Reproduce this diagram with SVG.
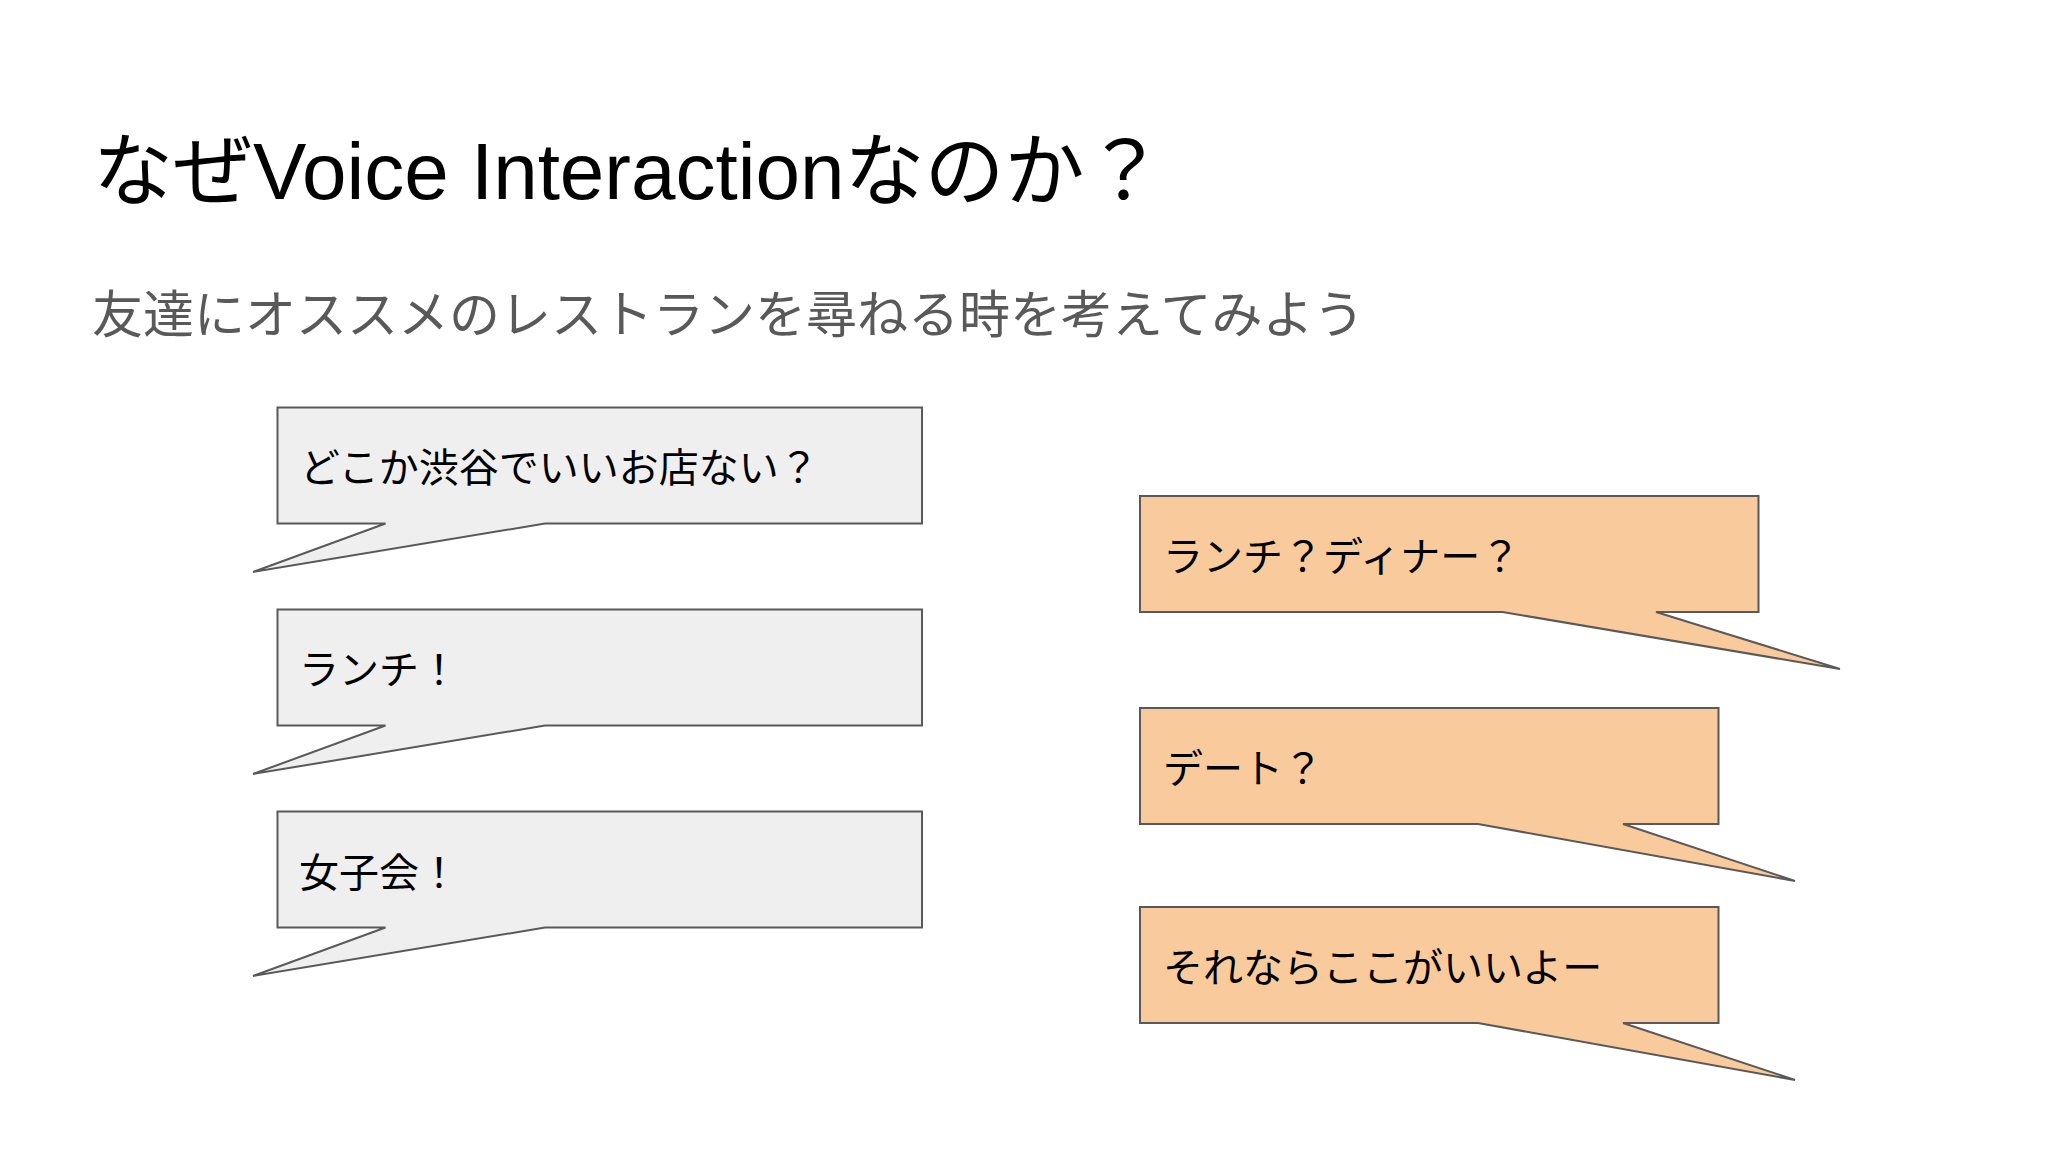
<svg xmlns="http://www.w3.org/2000/svg" width="2048" height="1152" viewBox="0 0 2048 1152">
  <style>
    .title { font-family: "Liberation Sans", "Noto Sans CJK JP", sans-serif; font-size: 80px; fill: #000000; }
    .sub { font-family: "Liberation Sans", "Noto Sans CJK JP", sans-serif; font-size: 51px; fill: #595959; }
    .lbl { font-family: "Liberation Sans", "Noto Sans CJK JP", sans-serif; font-size: 40px; fill: #000000; }
    .gray { fill: #efefef; stroke: #595959; stroke-width: 2; stroke-linejoin: miter; }
    .orange { fill: #f9cb9c; stroke: #595959; stroke-width: 2; stroke-linejoin: miter; }
  </style>
  <rect x="0" y="0" width="2048" height="1152" fill="#ffffff"/>
  <text class="title" x="93" y="199">なぜVoice Interactionなのか？</text>
  <text class="sub" x="92" y="333">友達にオススメのレストランを尋ねる時を考えてみよう</text>

  <g id="bubble-q1">
    <path class="gray" d="M277.5,407.5 H922 V523.5 H545 L253,572 L385.5,523.5 H277.5 Z"/>
    <text class="lbl" x="300" y="482">どこか渋谷でいいお店ない？</text>
  </g>
  <g id="bubble-q2">
    <path class="gray" d="M277.5,609.5 H922 V725.5 H545 L253,774 L385.5,725.5 H277.5 Z"/>
    <text class="lbl" x="299" y="684">ランチ！</text>
  </g>
  <g id="bubble-q3">
    <path class="gray" d="M277.5,811.5 H922 V927.5 H545 L253,976 L385.5,927.5 H277.5 Z"/>
    <text class="lbl" x="299" y="887">女子会！</text>
  </g>

  <g id="bubble-a1">
    <path class="orange" d="M1140,496 H1758.5 V612 H1656 L1840,669 L1502.5,612 H1140 Z"/>
    <text class="lbl" x="1163" y="571">ランチ？ディナー？</text>
  </g>
  <g id="bubble-a2">
    <path class="orange" d="M1140,708 H1718.5 V824 H1623 L1795,881 L1478,824 H1140 Z"/>
    <text class="lbl" x="1163" y="783">デート？</text>
  </g>
  <g id="bubble-a3">
    <path class="orange" d="M1140,907 H1718.5 V1023 H1623 L1795,1080 L1478,1023 H1140 Z"/>
    <text class="lbl" x="1163" y="982">それならここがいいよー</text>
  </g>

  <g id="connectors"></g>
</svg>
